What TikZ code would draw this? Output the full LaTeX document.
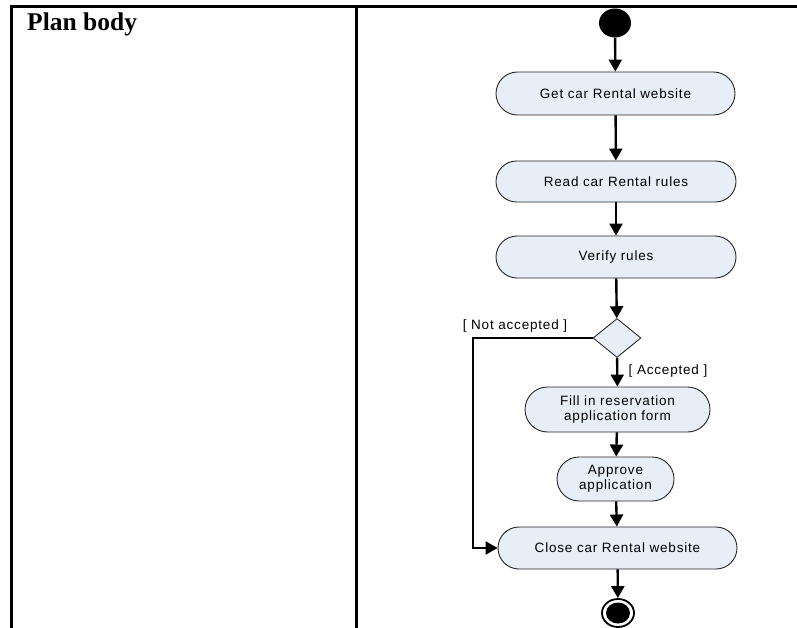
\documentclass[tikz,border=0pt]{standalone}
\usepackage{fontspec}
\setmainfont{Liberation Serif}
\newfontfamily\flowfont[LetterSpace=6]{Liberation Sans}
\usetikzlibrary{shapes.geometric,arrows.meta}
\definecolor{actfill}{RGB}{232,238,248}
\tikzset{
  activity/.style={draw=black!85, line width=0.9pt, fill=actfill,
    rounded corners=#1, minimum height=2*#1, inner sep=2pt,
    font=\flowfont\fontsize{13.5}{15}\selectfont, align=center},
  decision/.style={draw=black!85, line width=0.9pt, fill=actfill, shape=diamond,
    minimum width=48pt, minimum height=39pt, inner sep=0pt},
  guard/.style={font=\flowfont\fontsize{13.5}{15}\selectfont, inner sep=0pt},
  flow/.style={line width=2.4pt, -{Triangle[length=12pt,width=13pt]}},
  frame/.style={line width=3pt}
}
\begin{document}
\begin{tikzpicture}[x=1pt,y=-1pt]
\useasboundingbox (0,0) rectangle (797,628);
% table rules
\draw[frame] (10,7) -- (797,7);
\draw[frame] (11,5.5) -- (11,628);
\draw[frame] (356,5.5) -- (356,628);
\node[anchor=base west, inner sep=0pt, font=\bfseries\fontsize{25.5}{30}\selectfont] (title) at (27,31) {Plan body};

% activity diagram
\node[ellipse, fill=black, minimum width=32pt, minimum height=29pt, inner sep=0pt] (start) at (615,23) {};
\node[activity=21.5pt, minimum width=239pt] (get) at (615.5,93.5) {Get car Rental website};
\node[activity=20.5pt, minimum width=240pt] (read) at (616,181.5) {Read car Rental rules};
\node[activity=21pt, minimum width=240pt] (verify) at (616,257) {Verify rules};
\node[decision] (dec) at (617,338) {};
\node[activity=22.5pt, minimum width=185pt] (fill) at (617.5,409.5) {Fill in reservation\\application form};
\node[activity=22pt, minimum width=117pt] (approve) at (615.5,479) {Approve\\application};
\node[activity=21pt, minimum width=239pt] (close) at (617.5,548) {Close car Rental website};
\node[ellipse, draw, line width=1.8pt, fill=white, minimum width=32pt, minimum height=28pt, inner sep=0pt] (endring) at (618,613) {};
\node[ellipse, fill=black, minimum width=24pt, minimum height=21pt, inner sep=0pt] (enddot) at (618,613) {};

\node[guard] (notacc) at (515,326) {[ Not accepted ]};
\node[guard] (acc) at (668,371) {[ Accepted ]};

\coordinate (loopa) at (473,338);
\coordinate (loopb) at (473,548);

\draw[flow] (start) -- (get);
\draw[flow] (get) -- (read);
\draw[flow] (read) -- (verify);
\draw[flow] (verify) -- (dec);
\draw[flow] (dec) -- (fill);
\draw[flow] (fill) -- (approve);
\draw[flow] (approve) -- (close);
\draw[flow] (close) -- (endring);
\draw[flow] (dec.west) -- (loopa) -- (loopb) -- (close.west);
\end{tikzpicture}
\end{document}
